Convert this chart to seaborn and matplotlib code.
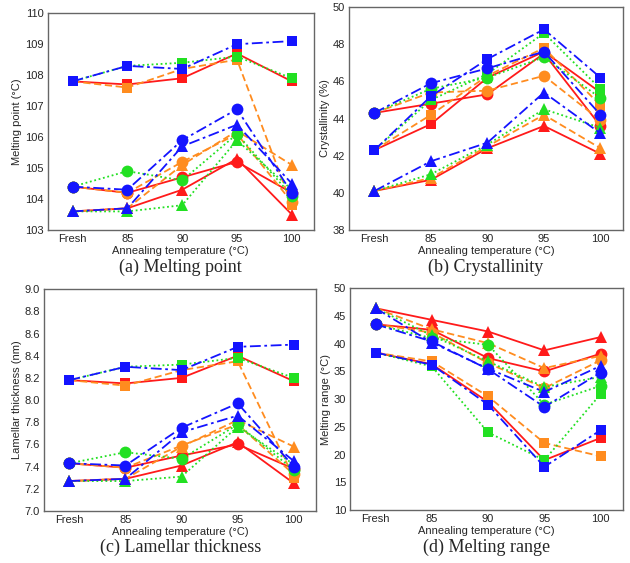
import numpy as np
import pandas as pd
import matplotlib
matplotlib.use('Agg')
import matplotlib.pyplot as plt
from matplotlib.ticker import MultipleLocator, FormatStrFormatter
import seaborn as sns

sns.set_style('white')
plt.rcParams['font.family'] = ['Liberation Sans', 'DejaVu Sans']

temps = ['Fresh', '85', '90', '95', '100']

# series order inside each list: red, orange, green, blue
line_colors = ['#ff1a1a', '#ff8c1f', '#22e022', '#1414ff']
line_styles = ['-', (0, (4, 2)), (0, (1, 1.5)), (0, (6, 2, 1.5, 2))]

# (a) melting point (degC)
melt_sq = [[107.8, 107.7, 107.9, 108.7, 107.8],
           [107.8, 107.6, 108.2, 108.5, 103.8],
           [107.8, 108.3, 108.4, 108.6, 107.9],
           [107.8, 108.3, 108.2, 109.0, 109.1]]
melt_ci = [[104.4, 104.2, 104.7, 105.2, 104.2],
           [104.4, 104.2, 105.2, 106.1, 103.9],
           [104.4, 104.9, 104.6, 106.1, 104.1],
           [104.4, 104.3, 105.9, 106.9, 104.2]]
melt_tr = [[103.6, 103.7, 104.3, 105.3, 103.5],
           [103.6, 103.7, 105.1, 106.2, 105.1],
           [103.6, 103.6, 103.8, 105.9, 104.3],
           [103.6, 103.7, 105.7, 106.4, 104.5]]

# (b) crystallinity (%)
cryst_sq = [[42.3, 43.7, 46.2, 47.6, 45.4],
            [42.3, 44.2, 46.3, 47.8, 44.7],
            [42.3, 45.0, 46.4, 48.6, 45.6],
            [42.3, 45.2, 47.2, 48.8, 46.2]]
cryst_ci = [[44.3, 44.8, 45.3, 47.5, 43.6],
            [44.3, 45.4, 45.5, 46.3, 43.9],
            [44.3, 45.6, 46.2, 47.3, 45.1],
            [44.3, 45.9, 46.7, 47.6, 44.2]]
cryst_tr = [[40.1, 40.7, 42.4, 43.6, 42.1],
            [40.1, 40.8, 42.5, 44.2, 42.4],
            [40.1, 41.0, 42.6, 44.5, 43.5],
            [40.1, 41.7, 42.7, 45.4, 43.2]]

# (c) lamellar thickness (nm)
lam_sq = [[8.18, 8.15, 8.20, 8.40, 8.17],
          [8.18, 8.13, 8.27, 8.35, 7.30],
          [8.18, 8.30, 8.32, 8.38, 8.20],
          [8.18, 8.30, 8.27, 8.48, 8.50]]
lam_ci = [[7.43, 7.39, 7.50, 7.60, 7.38],
          [7.43, 7.39, 7.59, 7.78, 7.33],
          [7.43, 7.53, 7.47, 7.78, 7.37],
          [7.43, 7.41, 7.75, 7.97, 7.40]]
lam_tr = [[7.27, 7.29, 7.41, 7.62, 7.25],
          [7.27, 7.29, 7.58, 7.82, 7.58],
          [7.27, 7.27, 7.31, 7.76, 7.42],
          [7.27, 7.29, 7.71, 7.86, 7.45]]

# (d) melting range (degC)
range_sq = [[38.4, 36.3, 29.5, 19.0, 23.0],
            [38.4, 36.8, 30.5, 22.1, 19.7],
            [38.4, 35.9, 24.0, 19.0, 30.9],
            [38.4, 36.2, 29.0, 17.8, 24.4]]
range_ci = [[43.5, 42.5, 37.4, 35.0, 38.2],
            [43.5, 42.0, 36.5, 32.0, 37.0],
            [43.5, 41.0, 39.8, 29.0, 32.4],
            [43.5, 40.4, 35.4, 28.6, 34.8]]
range_tr = [[46.4, 44.3, 42.2, 38.8, 41.2],
            [46.4, 42.6, 40.1, 35.6, 37.8],
            [46.4, 41.5, 36.8, 32.2, 34.0],
            [46.4, 40.2, 35.5, 31.3, 36.0]]

panels = [
    dict(data={'s': melt_sq, 'o': melt_ci, '^': melt_tr},
         ylabel='Melting point (°C)', ylim=(103, 110), major=1, minor=0.5,
         fmt='%d', caption='(a) Melting point', cap_y=0.526,
         rect=[0.076, 0.5915, 0.422, 0.385]),
    dict(data={'s': cryst_sq, 'o': cryst_ci, '^': cryst_tr},
         ylabel='Crystallinity (%)', ylim=(38, 50), major=2, minor=1,
         fmt='%d', caption='(b) Crystallinity', cap_y=0.526,
         rect=[0.554, 0.5915, 0.435, 0.396]),
    dict(data={'s': lam_sq, 'o': lam_ci, '^': lam_tr},
         ylabel='Lamellar thickness (nm)', ylim=(7.0, 9.0), major=0.2,
         minor=0.1, fmt='%.1f', caption='(c) Lamellar thickness',
         cap_y=0.027, rect=[0.070, 0.0924, 0.432, 0.394]),
    dict(data={'s': range_sq, 'o': range_ci, '^': range_tr},
         ylabel='Melting range (°C)', ylim=(10, 50), major=5, minor=2.5,
         fmt='%d', caption='(d) Melting range', cap_y=0.027,
         rect=[0.556, 0.094, 0.433, 0.394]),
]

fig = plt.figure(figsize=(6.3, 5.63), dpi=100)
xpos = np.arange(len(temps))
marker_sizes = {'s': 7.5, 'o': 8.5, '^': 8.5}

for p in panels:
    ax = fig.add_axes(p['rect'])
    for i, color in enumerate(line_colors):
        for marker, series in p['data'].items():
            df = pd.DataFrame({'x': xpos, 'y': series[i]})
            sns.lineplot(data=df, x='x', y='y', ax=ax, color=color,
                         linestyle=line_styles[i], linewidth=1.3,
                         marker=marker, markersize=marker_sizes[marker],
                         markeredgewidth=0, legend=False)
    ax.set_xlim(-0.45, 4.4)
    ax.set_ylim(*p['ylim'])
    ax.set_xticks(xpos)
    ax.set_xticklabels(temps)
    ax.yaxis.set_major_locator(MultipleLocator(p['major']))
    ax.yaxis.set_minor_locator(MultipleLocator(p['minor']))
    ax.yaxis.set_major_formatter(FormatStrFormatter(p['fmt']))
    ax.tick_params(axis='both', which='both', direction='in',
                   labelsize=8, color='#555555', pad=3)
    ax.tick_params(axis='both', which='major', length=3.5)
    ax.tick_params(axis='y', which='minor', length=2)
    ax.set_xlabel('Annealing temperature (°C)', fontsize=8, labelpad=1)
    ax.set_ylabel(p['ylabel'], fontsize=8, labelpad=2)
    for s in ax.spines.values():
        s.set_color('#666666')
        s.set_linewidth(1.0)
    rect = p['rect']
    fig.text(rect[0] + rect[2] / 2, p['cap_y'], p['caption'],
             ha='center', va='center', fontsize=13,
             family=['Liberation Serif', 'DejaVu Serif'])

fig.savefig('out.png', dpi=100, facecolor='white')
